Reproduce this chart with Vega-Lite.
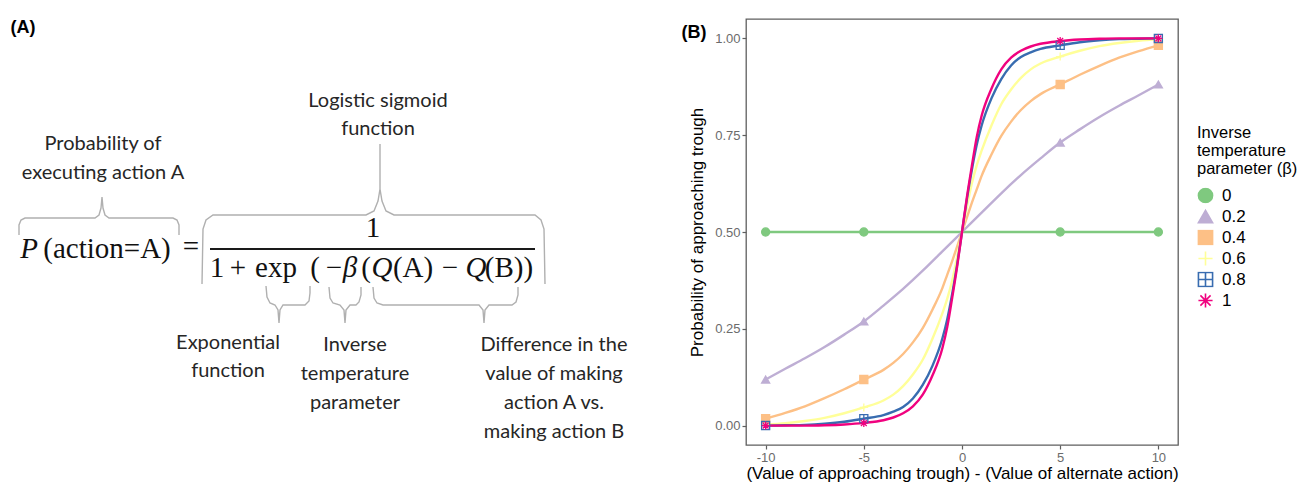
{
  "$schema": "https://vega.github.io/schema/vega-lite/v6.json",
  "background": "white",
  "padding": {"top": 18, "left": 0, "right": 0, "bottom": 0},
  "config": {
    "font": "Liberation Sans",
    "view": {"stroke": null},
    "legend": {"titleFontSize": 16.5, "titleFontWeight": "normal", "titleColor": "#000000", "titleLineHeight": 18, "titlePadding": 10, "labelFontSize": 17, "labelColor": "#000000", "labelOffset": 8, "symbolSize": 200, "symbolStrokeWidth": 1.6, "rowPadding": 4, "clipHeight": 16, "padding": 0}
  },
  "datasets": {
    "braces": [
      {"brace": "p", "i": 1, "bx": 19, "by": 234}, {"brace": "p", "i": 2, "bx": 19, "by": 224}, {"brace": "p", "i": 3, "bx": 21, "by": 219}, {"brace": "p", "i": 4, "bx": 25, "by": 217}, {"brace": "p", "i": 5, "bx": 95, "by": 217}, {"brace": "p", "i": 6, "bx": 99, "by": 214}, {"brace": "p", "i": 7, "bx": 101, "by": 207}, {"brace": "p", "i": 8, "bx": 102, "by": 196}, {"brace": "p", "i": 9, "bx": 103, "by": 207}, {"brace": "p", "i": 10, "bx": 105, "by": 214}, {"brace": "p", "i": 11, "bx": 109, "by": 217}, {"brace": "p", "i": 12, "bx": 173, "by": 217}, {"brace": "p", "i": 13, "bx": 177, "by": 219}, {"brace": "p", "i": 14, "bx": 179, "by": 224}, {"brace": "p", "i": 15, "bx": 179, "by": 234},
      {"brace": "sig", "i": 1, "bx": 202, "by": 283}, {"brace": "sig", "i": 2, "bx": 203, "by": 228}, {"brace": "sig", "i": 3, "bx": 206, "by": 219}, {"brace": "sig", "i": 4, "bx": 213, "by": 214}, {"brace": "sig", "i": 5, "bx": 366, "by": 214}, {"brace": "sig", "i": 6, "bx": 374, "by": 210}, {"brace": "sig", "i": 7, "bx": 378, "by": 200}, {"brace": "sig", "i": 8, "bx": 380, "by": 188}, {"brace": "sig", "i": 9, "bx": 380, "by": 143}, {"brace": "sig", "i": 10, "bx": 380, "by": 188}, {"brace": "sig", "i": 11, "bx": 382, "by": 200}, {"brace": "sig", "i": 12, "bx": 386, "by": 210}, {"brace": "sig", "i": 13, "bx": 394, "by": 214}, {"brace": "sig", "i": 14, "bx": 535, "by": 214}, {"brace": "sig", "i": 15, "bx": 541, "by": 219}, {"brace": "sig", "i": 16, "bx": 544, "by": 228}, {"brace": "sig", "i": 17, "bx": 545, "by": 283},
      {"brace": "exp", "i": 1, "bx": 266, "by": 285}, {"brace": "exp", "i": 2, "bx": 267, "by": 296}, {"brace": "exp", "i": 3, "bx": 270, "by": 302}, {"brace": "exp", "i": 4, "bx": 275, "by": 304}, {"brace": "exp", "i": 5, "bx": 278, "by": 309}, {"brace": "exp", "i": 6, "bx": 279, "by": 322}, {"brace": "exp", "i": 7, "bx": 280, "by": 309}, {"brace": "exp", "i": 8, "bx": 283, "by": 304}, {"brace": "exp", "i": 9, "bx": 305, "by": 304}, {"brace": "exp", "i": 10, "bx": 309, "by": 300}, {"brace": "exp", "i": 11, "bx": 310, "by": 292}, {"brace": "exp", "i": 12, "bx": 310, "by": 285},
      {"brace": "beta", "i": 1, "bx": 329, "by": 286}, {"brace": "beta", "i": 2, "bx": 330, "by": 297}, {"brace": "beta", "i": 3, "bx": 333, "by": 302}, {"brace": "beta", "i": 4, "bx": 340, "by": 304}, {"brace": "beta", "i": 5, "bx": 344, "by": 309}, {"brace": "beta", "i": 6, "bx": 345, "by": 322}, {"brace": "beta", "i": 7, "bx": 346, "by": 309}, {"brace": "beta", "i": 8, "bx": 350, "by": 304}, {"brace": "beta", "i": 9, "bx": 356, "by": 304}, {"brace": "beta", "i": 10, "bx": 359, "by": 301}, {"brace": "beta", "i": 11, "bx": 361, "by": 294}, {"brace": "beta", "i": 12, "bx": 361, "by": 286},
      {"brace": "q", "i": 1, "bx": 373, "by": 286}, {"brace": "q", "i": 2, "bx": 374, "by": 297}, {"brace": "q", "i": 3, "bx": 377, "by": 302}, {"brace": "q", "i": 4, "bx": 383, "by": 304}, {"brace": "q", "i": 5, "bx": 479, "by": 304}, {"brace": "q", "i": 6, "bx": 483, "by": 309}, {"brace": "q", "i": 7, "bx": 484, "by": 322}, {"brace": "q", "i": 8, "bx": 485, "by": 309}, {"brace": "q", "i": 9, "bx": 489, "by": 304}, {"brace": "q", "i": 10, "bx": 512, "by": 304}, {"brace": "q", "i": 11, "bx": 516, "by": 301}, {"brace": "q", "i": 12, "bx": 518, "by": 294}, {"brace": "q", "i": 13, "bx": 518, "by": 286}
    ],
    "bar": [{"x1": 210, "x2": 535, "y": 248}],
    "labels": [
      {"t": "Logistic sigmoid", "lx": 378, "ly": 100},
      {"t": "function", "lx": 378, "ly": 128},
      {"t": "Probability of", "lx": 103, "ly": 143},
      {"t": "executing action A", "lx": 103, "ly": 172},
      {"t": "Exponential", "lx": 228, "ly": 342},
      {"t": "function", "lx": 228, "ly": 370},
      {"t": "Inverse", "lx": 355, "ly": 344},
      {"t": "temperature", "lx": 355, "ly": 373},
      {"t": "parameter", "lx": 355, "ly": 402},
      {"t": "Difference in the", "lx": 554, "ly": 344},
      {"t": "value of making", "lx": 554, "ly": 373},
      {"t": "action A vs.", "lx": 554, "ly": 402},
      {"t": "making action B", "lx": 554, "ly": 431}
    ],
    "math": [
      {"t": "P", "mx": 29, "my": 248, "kind": "var"},
      {"t": "(action=A)", "mx": 107, "my": 248, "kind": "op"},
      {"t": "=", "mx": 191, "my": 246, "kind": "op"},
      {"t": "1", "mx": 373, "my": 227, "kind": "op"},
      {"t": "1", "mx": 217, "my": 267, "kind": "op"},
      {"t": "+", "mx": 238, "my": 267, "kind": "op"},
      {"t": "exp", "mx": 276, "my": 267, "kind": "op"},
      {"t": "(", "mx": 315, "my": 267, "kind": "op"},
      {"t": "−", "mx": 334, "my": 267, "kind": "op"},
      {"t": "β", "mx": 350, "my": 267, "kind": "var"},
      {"t": "(", "mx": 366, "my": 267, "kind": "op"},
      {"t": "Q", "mx": 382, "my": 267, "kind": "var"},
      {"t": "(A)", "mx": 413, "my": 267, "kind": "op"},
      {"t": "−", "mx": 450, "my": 267, "kind": "op"},
      {"t": "Q", "mx": 476, "my": 267, "kind": "var"},
      {"t": "(B))", "mx": 509, "my": 267, "kind": "op"}
    ],
    "tags": [
      {"t": "(A)", "tx": 23, "ty": 27}
    ],
    "tagB": [
      {"t": "(B)", "x": -13.65, "p": 1.014}
    ],
    "curves": [
      {"beta": "0", "x": -10, "p": 0.5}, {"beta": "0", "x": -5, "p": 0.5}, {"beta": "0", "x": 0, "p": 0.5}, {"beta": "0", "x": 5, "p": 0.5}, {"beta": "0", "x": 10, "p": 0.5},
      {"beta": "0.2", "x": -10, "p": 0.119}, {"beta": "0.2", "x": -9, "p": 0.147}, {"beta": "0.2", "x": -8, "p": 0.174}, {"beta": "0.2", "x": -7, "p": 0.203}, {"beta": "0.2", "x": -6, "p": 0.235}, {"beta": "0.2", "x": -5, "p": 0.269}, {"beta": "0.2", "x": -4, "p": 0.31}, {"beta": "0.2", "x": -3, "p": 0.353}, {"beta": "0.2", "x": -2, "p": 0.4}, {"beta": "0.2", "x": -1, "p": 0.45}, {"beta": "0.2", "x": 0, "p": 0.5}, {"beta": "0.2", "x": 1, "p": 0.55}, {"beta": "0.2", "x": 2, "p": 0.6}, {"beta": "0.2", "x": 3, "p": 0.647}, {"beta": "0.2", "x": 4, "p": 0.69}, {"beta": "0.2", "x": 5, "p": 0.731}, {"beta": "0.2", "x": 6, "p": 0.765}, {"beta": "0.2", "x": 7, "p": 0.797}, {"beta": "0.2", "x": 8, "p": 0.826}, {"beta": "0.2", "x": 9, "p": 0.853}, {"beta": "0.2", "x": 10, "p": 0.881},
      {"beta": "0.4", "x": -10, "p": 0.018}, {"beta": "0.4", "x": -9, "p": 0.033}, {"beta": "0.4", "x": -8, "p": 0.05}, {"beta": "0.4", "x": -7, "p": 0.071}, {"beta": "0.4", "x": -6, "p": 0.094}, {"beta": "0.4", "x": -5, "p": 0.119}, {"beta": "0.4", "x": -4, "p": 0.144}, {"beta": "0.4", "x": -3.5, "p": 0.162}, {"beta": "0.4", "x": -3, "p": 0.185}, {"beta": "0.4", "x": -2.5, "p": 0.215}, {"beta": "0.4", "x": -2, "p": 0.252}, {"beta": "0.4", "x": -1.5, "p": 0.3}, {"beta": "0.4", "x": -1, "p": 0.355}, {"beta": "0.4", "x": -0.75, "p": 0.39}, {"beta": "0.4", "x": -0.5, "p": 0.425}, {"beta": "0.4", "x": -0.25, "p": 0.462}, {"beta": "0.4", "x": 0, "p": 0.5}, {"beta": "0.4", "x": 0.25, "p": 0.538}, {"beta": "0.4", "x": 0.5, "p": 0.575}, {"beta": "0.4", "x": 0.75, "p": 0.61}, {"beta": "0.4", "x": 1, "p": 0.645}, {"beta": "0.4", "x": 1.5, "p": 0.7}, {"beta": "0.4", "x": 2, "p": 0.748}, {"beta": "0.4", "x": 2.5, "p": 0.785}, {"beta": "0.4", "x": 3, "p": 0.815}, {"beta": "0.4", "x": 3.5, "p": 0.838}, {"beta": "0.4", "x": 4, "p": 0.856}, {"beta": "0.4", "x": 5, "p": 0.881}, {"beta": "0.4", "x": 6, "p": 0.906}, {"beta": "0.4", "x": 7, "p": 0.929}, {"beta": "0.4", "x": 8, "p": 0.95}, {"beta": "0.4", "x": 9, "p": 0.967}, {"beta": "0.4", "x": 10, "p": 0.982},
      {"beta": "0.6", "x": -10, "p": 0.0025}, {"beta": "0.6", "x": -9, "p": 0.006}, {"beta": "0.6", "x": -8, "p": 0.012}, {"beta": "0.6", "x": -7, "p": 0.02}, {"beta": "0.6", "x": -6, "p": 0.032}, {"beta": "0.6", "x": -5, "p": 0.047}, {"beta": "0.6", "x": -4, "p": 0.065}, {"beta": "0.6", "x": -3.5, "p": 0.08}, {"beta": "0.6", "x": -3, "p": 0.102}, {"beta": "0.6", "x": -2.5, "p": 0.132}, {"beta": "0.6", "x": -2, "p": 0.17}, {"beta": "0.6", "x": -1.5, "p": 0.225}, {"beta": "0.6", "x": -1, "p": 0.29}, {"beta": "0.6", "x": -0.75, "p": 0.328}, {"beta": "0.6", "x": -0.5, "p": 0.375}, {"beta": "0.6", "x": -0.25, "p": 0.435}, {"beta": "0.6", "x": 0, "p": 0.5}, {"beta": "0.6", "x": 0.25, "p": 0.565}, {"beta": "0.6", "x": 0.5, "p": 0.625}, {"beta": "0.6", "x": 0.75, "p": 0.672}, {"beta": "0.6", "x": 1, "p": 0.71}, {"beta": "0.6", "x": 1.5, "p": 0.775}, {"beta": "0.6", "x": 2, "p": 0.83}, {"beta": "0.6", "x": 2.5, "p": 0.868}, {"beta": "0.6", "x": 3, "p": 0.898}, {"beta": "0.6", "x": 3.5, "p": 0.92}, {"beta": "0.6", "x": 4, "p": 0.935}, {"beta": "0.6", "x": 5, "p": 0.953}, {"beta": "0.6", "x": 6, "p": 0.968}, {"beta": "0.6", "x": 7, "p": 0.98}, {"beta": "0.6", "x": 8, "p": 0.988}, {"beta": "0.6", "x": 9, "p": 0.994}, {"beta": "0.6", "x": 10, "p": 0.9975},
      {"beta": "0.8", "x": -10, "p": 0.0}, {"beta": "0.8", "x": -9, "p": 0.001}, {"beta": "0.8", "x": -8, "p": 0.002}, {"beta": "0.8", "x": -7, "p": 0.005}, {"beta": "0.8", "x": -6, "p": 0.01}, {"beta": "0.8", "x": -5, "p": 0.018}, {"beta": "0.8", "x": -4, "p": 0.027}, {"beta": "0.8", "x": -3.5, "p": 0.036}, {"beta": "0.8", "x": -3, "p": 0.048}, {"beta": "0.8", "x": -2.5, "p": 0.07}, {"beta": "0.8", "x": -2, "p": 0.105}, {"beta": "0.8", "x": -1.5, "p": 0.155}, {"beta": "0.8", "x": -1, "p": 0.225}, {"beta": "0.8", "x": -0.75, "p": 0.275}, {"beta": "0.8", "x": -0.5, "p": 0.34}, {"beta": "0.8", "x": -0.25, "p": 0.415}, {"beta": "0.8", "x": 0, "p": 0.5}, {"beta": "0.8", "x": 0.25, "p": 0.585}, {"beta": "0.8", "x": 0.5, "p": 0.66}, {"beta": "0.8", "x": 0.75, "p": 0.725}, {"beta": "0.8", "x": 1, "p": 0.775}, {"beta": "0.8", "x": 1.5, "p": 0.845}, {"beta": "0.8", "x": 2, "p": 0.895}, {"beta": "0.8", "x": 2.5, "p": 0.93}, {"beta": "0.8", "x": 3, "p": 0.952}, {"beta": "0.8", "x": 3.5, "p": 0.964}, {"beta": "0.8", "x": 4, "p": 0.973}, {"beta": "0.8", "x": 5, "p": 0.982}, {"beta": "0.8", "x": 6, "p": 0.99}, {"beta": "0.8", "x": 7, "p": 0.995}, {"beta": "0.8", "x": 8, "p": 0.998}, {"beta": "0.8", "x": 9, "p": 0.999}, {"beta": "0.8", "x": 10, "p": 1.0},
      {"beta": "1", "x": -10, "p": 0.0}, {"beta": "1", "x": -9, "p": 0.0}, {"beta": "1", "x": -8, "p": 0.0}, {"beta": "1", "x": -7, "p": 0.001}, {"beta": "1", "x": -6, "p": 0.003}, {"beta": "1", "x": -5, "p": 0.007}, {"beta": "1", "x": -4, "p": 0.014}, {"beta": "1", "x": -3.5, "p": 0.021}, {"beta": "1", "x": -3, "p": 0.032}, {"beta": "1", "x": -2.5, "p": 0.05}, {"beta": "1", "x": -2, "p": 0.08}, {"beta": "1", "x": -1.5, "p": 0.13}, {"beta": "1", "x": -1, "p": 0.2}, {"beta": "1", "x": -0.75, "p": 0.255}, {"beta": "1", "x": -0.5, "p": 0.33}, {"beta": "1", "x": -0.25, "p": 0.41}, {"beta": "1", "x": 0, "p": 0.5}, {"beta": "1", "x": 0.25, "p": 0.59}, {"beta": "1", "x": 0.5, "p": 0.67}, {"beta": "1", "x": 0.75, "p": 0.745}, {"beta": "1", "x": 1, "p": 0.8}, {"beta": "1", "x": 1.5, "p": 0.87}, {"beta": "1", "x": 2, "p": 0.92}, {"beta": "1", "x": 2.5, "p": 0.95}, {"beta": "1", "x": 3, "p": 0.968}, {"beta": "1", "x": 3.5, "p": 0.979}, {"beta": "1", "x": 4, "p": 0.986}, {"beta": "1", "x": 5, "p": 0.993}, {"beta": "1", "x": 6, "p": 0.997}, {"beta": "1", "x": 7, "p": 0.999}, {"beta": "1", "x": 8, "p": 1.0}, {"beta": "1", "x": 9, "p": 1.0}, {"beta": "1", "x": 10, "p": 1.0}
    ],
    "pts": [
      {"beta": "0", "x": -10, "p": 0.5}, {"beta": "0", "x": -5, "p": 0.5}, {"beta": "0", "x": 5, "p": 0.5}, {"beta": "0", "x": 10, "p": 0.5},
      {"beta": "0.2", "x": -10, "p": 0.119}, {"beta": "0.2", "x": -5, "p": 0.269}, {"beta": "0.2", "x": 5, "p": 0.731}, {"beta": "0.2", "x": 10, "p": 0.881},
      {"beta": "0.4", "x": -10, "p": 0.018}, {"beta": "0.4", "x": -5, "p": 0.119}, {"beta": "0.4", "x": 5, "p": 0.881}, {"beta": "0.4", "x": 10, "p": 0.982},
      {"beta": "0.6", "x": -10, "p": 0.0025}, {"beta": "0.6", "x": -5, "p": 0.047}, {"beta": "0.6", "x": 5, "p": 0.953}, {"beta": "0.6", "x": 10, "p": 0.9975},
      {"beta": "0.8", "x": -10, "p": 0.0003}, {"beta": "0.8", "x": -5, "p": 0.018}, {"beta": "0.8", "x": 5, "p": 0.982}, {"beta": "0.8", "x": 10, "p": 0.9997},
      {"beta": "1", "x": -10, "p": 0.00005}, {"beta": "1", "x": -5, "p": 0.0067}, {"beta": "1", "x": 5, "p": 0.9933}, {"beta": "1", "x": 10, "p": 0.99995}
    ]
  },
  "hconcat": [
    {
      "width": 680,
      "height": 466,
      "view": {"stroke": null},
      "layer": [
        {
          "data": {"name": "braces"},
          "mark": {"type": "line", "color": "#b0b0b0", "strokeWidth": 1.4},
          "encoding": {
            "x": {"field": "bx", "type": "quantitative", "scale": {"domain": [0, 680], "nice": false, "zero": false}, "axis": null},
            "y": {"field": "by", "type": "quantitative", "scale": {"domain": [18, 484], "nice": false, "zero": false, "reverse": true}, "axis": null},
            "detail": {"field": "brace"},
            "order": {"field": "i", "type": "quantitative"}
          }
        },
        {
          "data": {"name": "bar"},
          "mark": {"type": "rule", "color": "#1a1a1a", "strokeWidth": 2},
          "encoding": {
            "x": {"field": "x1", "type": "quantitative", "scale": {"domain": [0, 680], "nice": false, "zero": false}, "axis": null},
            "x2": {"field": "x2"},
            "y": {"field": "y", "type": "quantitative", "scale": {"domain": [18, 484], "nice": false, "zero": false, "reverse": true}, "axis": null}
          }
        },
        {
          "data": {"name": "labels"},
          "mark": {"type": "text", "font": "Lato", "fontSize": 20, "color": "#262626", "align": "center", "baseline": "middle"},
          "encoding": {
            "x": {"field": "lx", "type": "quantitative", "scale": {"domain": [0, 680], "nice": false, "zero": false}, "axis": null},
            "y": {"field": "ly", "type": "quantitative", "scale": {"domain": [18, 484], "nice": false, "zero": false, "reverse": true}, "axis": null},
            "text": {"field": "t"}
          }
        },
        {
          "data": {"name": "math"},
          "transform": [{"filter": "datum.kind === 'op'"}],
          "mark": {"type": "text", "font": "Liberation Serif", "fontSize": 29, "color": "#111111", "align": "center", "baseline": "middle"},
          "encoding": {
            "x": {"field": "mx", "type": "quantitative", "scale": {"domain": [0, 680], "nice": false, "zero": false}, "axis": null},
            "y": {"field": "my", "type": "quantitative", "scale": {"domain": [18, 484], "nice": false, "zero": false, "reverse": true}, "axis": null},
            "text": {"field": "t"}
          }
        },
        {
          "data": {"name": "math"},
          "transform": [{"filter": "datum.kind === 'var'"}],
          "mark": {"type": "text", "font": "Liberation Serif", "fontStyle": "italic", "fontSize": 29, "color": "#111111", "align": "center", "baseline": "middle"},
          "encoding": {
            "x": {"field": "mx", "type": "quantitative", "scale": {"domain": [0, 680], "nice": false, "zero": false}, "axis": null},
            "y": {"field": "my", "type": "quantitative", "scale": {"domain": [18, 484], "nice": false, "zero": false, "reverse": true}, "axis": null},
            "text": {"field": "t"}
          }
        },
        {
          "data": {"name": "tags"},
          "mark": {"type": "text", "font": "Liberation Sans", "fontWeight": "bold", "fontSize": 18, "color": "#000000", "align": "center", "baseline": "middle"},
          "encoding": {
            "x": {"field": "tx", "type": "quantitative", "scale": {"domain": [0, 680], "nice": false, "zero": false}, "axis": null},
            "y": {"field": "ty", "type": "quantitative", "scale": {"domain": [18, 484], "nice": false, "zero": false, "reverse": true}, "axis": null},
            "text": {"field": "t"}
          }
        }
      ]
    },
    {
      "width": 432,
      "height": 426,
      "view": {"stroke": "#5f5f5f", "strokeWidth": 1.3},
      "layer": [
        {
          "data": {"name": "curves"},
          "mark": {"type": "line", "interpolate": "monotone", "strokeWidth": 2.4},
          "encoding": {
            "x": {
              "field": "x", "type": "quantitative",
              "scale": {"domain": [-11, 11], "nice": false, "zero": false},
              "axis": {"title": "(Value of approaching trough) - (Value of alternate action)", "values": [-10, -5, 0, 5, 10], "labelExpr": "replace(datum.label, '−', '-')", "domain": false, "grid": false, "tickColor": "#5f5f5f", "tickSize": 4, "tickWidth": 1.2, "labelColor": "#6b6b6b", "labelFontSize": 13, "labelPadding": 2, "titleFontSize": 17, "titleColor": "#000000", "titleFontWeight": "normal", "titlePadding": 1}
            },
            "y": {
              "field": "p", "type": "quantitative",
              "scale": {"domain": [-0.05, 1.05], "nice": false, "zero": false},
              "axis": {"title": "Probability of approaching trough", "values": [0, 0.25, 0.5, 0.75, 1], "format": ".2f", "domain": false, "grid": false, "tickColor": "#5f5f5f", "tickSize": 4, "tickWidth": 1.2, "labelColor": "#6b6b6b", "labelFontSize": 13, "labelPadding": 2, "titleFontSize": 17, "titleColor": "#000000", "titleFontWeight": "normal", "titlePadding": 8}
            },
            "color": {
              "field": "beta", "type": "nominal",
              "scale": {"domain": ["0", "0.2", "0.4", "0.6", "0.8", "1"], "range": ["#7FC97F", "#BEAED4", "#FDC086", "#FFFF99", "#386CB0", "#F0027F"]},
              "legend": {
                "orient": "none", "legendX": 451, "legendY": 106,
                "title": ["Inverse", "temperature", "parameter   (β)"],
                "titleFontSize": 16.5, "labelFontSize": 17, "symbolSize": 200, "clipHeight": 16
              }
            }
          }
        },
        {
          "data": {"name": "pts"},
          "mark": {"type": "point", "filled": false, "strokeWidth": 1.3, "size": 65, "opacity": 1},
          "encoding": {
            "x": {"field": "x", "type": "quantitative"},
            "y": {"field": "p", "type": "quantitative"},
            "color": {
              "field": "beta", "type": "nominal",
              "legend": {
                "orient": "none", "legendX": 451, "legendY": 106,
                "title": ["Inverse", "temperature", "parameter   (β)"],
                "titleFontSize": 16.5, "labelFontSize": 17, "symbolSize": 200, "clipHeight": 16
              }
            },
            "shape": {
              "field": "beta", "type": "nominal",
              "scale": {"domain": ["0", "0.2", "0.4", "0.6", "0.8", "1"], "range": ["circle", "triangle-up", "square", "M-1,0L1,0M0,-1L0,1", "M-1,-1L1,-1L1,1L-1,1ZM-1,0L1,0M0,-1L0,1", "M-1,0L1,0M0,-1L0,1M-0.72,-0.72L0.72,0.72M-0.72,0.72L0.72,-0.72"]},
              "legend": null
            },
            "fill": {
              "field": "beta", "type": "nominal",
              "scale": {"domain": ["0", "0.2", "0.4", "0.6", "0.8", "1"], "range": ["#7FC97F", "#BEAED4", "#FDC086", "transparent", "transparent", "transparent"]},
              "legend": null
            }
          }
        },
        {
          "data": {"name": "tagB"},
          "mark": {"type": "text", "font": "Liberation Sans", "fontWeight": "bold", "fontSize": 18, "color": "#000000", "align": "center", "baseline": "middle"},
          "encoding": {
            "x": {"field": "x", "type": "quantitative"},
            "y": {"field": "p", "type": "quantitative"},
            "text": {"field": "t"}
          }
        }
      ]
    }
  ],
  "spacing": 0,
  "resolve": {
    "scale": {"x": "independent", "y": "independent", "color": "independent", "shape": "independent", "fill": "independent"},
    "legend": {"color": "independent"}
  }
}
